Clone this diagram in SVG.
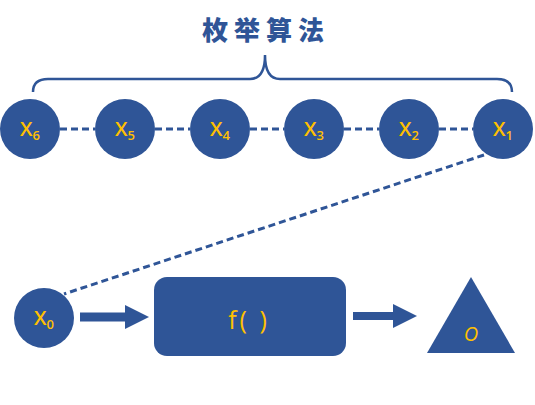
<svg xmlns="http://www.w3.org/2000/svg" width="535" height="405" viewBox="0 0 535 405">
<defs>
<style>
.node{fill:#2F5597}
.lbl{fill:#FFC000;font-family:"Open Sans",Lato,"DejaVu Sans",sans-serif;font-weight:600;font-size:20px;text-anchor:middle}
.sub{font-size:13px}
.dash{stroke:#2F5597;stroke-width:3;stroke-dasharray:7 4;fill:none}
.title{fill:#2F5597;font-family:"Noto Sans CJK SC",sans-serif;font-weight:900;font-size:26px;letter-spacing:6px}
</style>
<marker id="ah" viewBox="0 0 24 24" refX="0" refY="12" markerWidth="24" markerHeight="24" markerUnits="userSpaceOnUse" orient="auto">
<path d="M0,0 L24,12 L0,24 Z" fill="#2F5597"/>
</marker>
</defs>
<rect width="535" height="405" fill="#ffffff"/>
<text class="title" x="202" y="40">枚举算法</text>
<path d="M33,92 Q33,79 48,79 L250,79 Q265,79 265,55 Q265,79 280,79 L497,79 Q512,79 512,92" fill="none" stroke="#2F5597" stroke-width="2.5"/>
<g id="connectors">
<line class="dash" x1="60" y1="129" x2="95" y2="129"/>
<line class="dash" x1="155" y1="129" x2="190" y2="129"/>
<line class="dash" x1="250" y1="129" x2="284" y2="129"/>
<line class="dash" x1="344" y1="129" x2="379" y2="129"/>
<line class="dash" x1="439" y1="129" x2="473" y2="129"/>
<line class="dash" x1="484" y1="155" x2="64" y2="294"/>
<line x1="80" y1="317" x2="125" y2="317" stroke="#2F5597" stroke-width="9" marker-end="url(#ah)"/>
<line x1="353" y1="316" x2="393" y2="316" stroke="#2F5597" stroke-width="8" marker-end="url(#ah)"/>
</g>
<g id="x6"><circle class="node" cx="30" cy="129" r="30"/><text class="lbl" x="30" y="136">X<tspan class="sub" dy="4">6</tspan></text></g>
<g id="x5"><circle class="node" cx="125" cy="129" r="30"/><text class="lbl" x="125" y="136">X<tspan class="sub" dy="4">5</tspan></text></g>
<g id="x4"><circle class="node" cx="220" cy="129" r="30"/><text class="lbl" x="220" y="136">X<tspan class="sub" dy="4">4</tspan></text></g>
<g id="x3"><circle class="node" cx="314" cy="129" r="30"/><text class="lbl" x="314" y="136">X<tspan class="sub" dy="4">3</tspan></text></g>
<g id="x2"><circle class="node" cx="409" cy="129" r="30"/><text class="lbl" x="409" y="136">X<tspan class="sub" dy="4">2</tspan></text></g>
<g id="x1"><circle class="node" cx="503" cy="129" r="30"/><text class="lbl" x="503" y="136">X<tspan class="sub" dy="4">1</tspan></text></g>
<g id="x0"><circle class="node" cx="44" cy="318" r="30"/><text class="lbl" x="44" y="325">X<tspan class="sub" dy="4">0</tspan></text></g>
<g id="f"><rect class="node" x="154" y="277" width="192" height="79" rx="13"/><text class="lbl" x="249" y="329" style="font-size:25px;font-weight:500;letter-spacing:3px">f( )</text></g>
<g id="o"><polygon class="node" points="471,277 515,353 427,353"/><text class="lbl" x="471" y="341" style="font-style:italic;font-size:20px;font-weight:400">O</text></g>
</svg>
